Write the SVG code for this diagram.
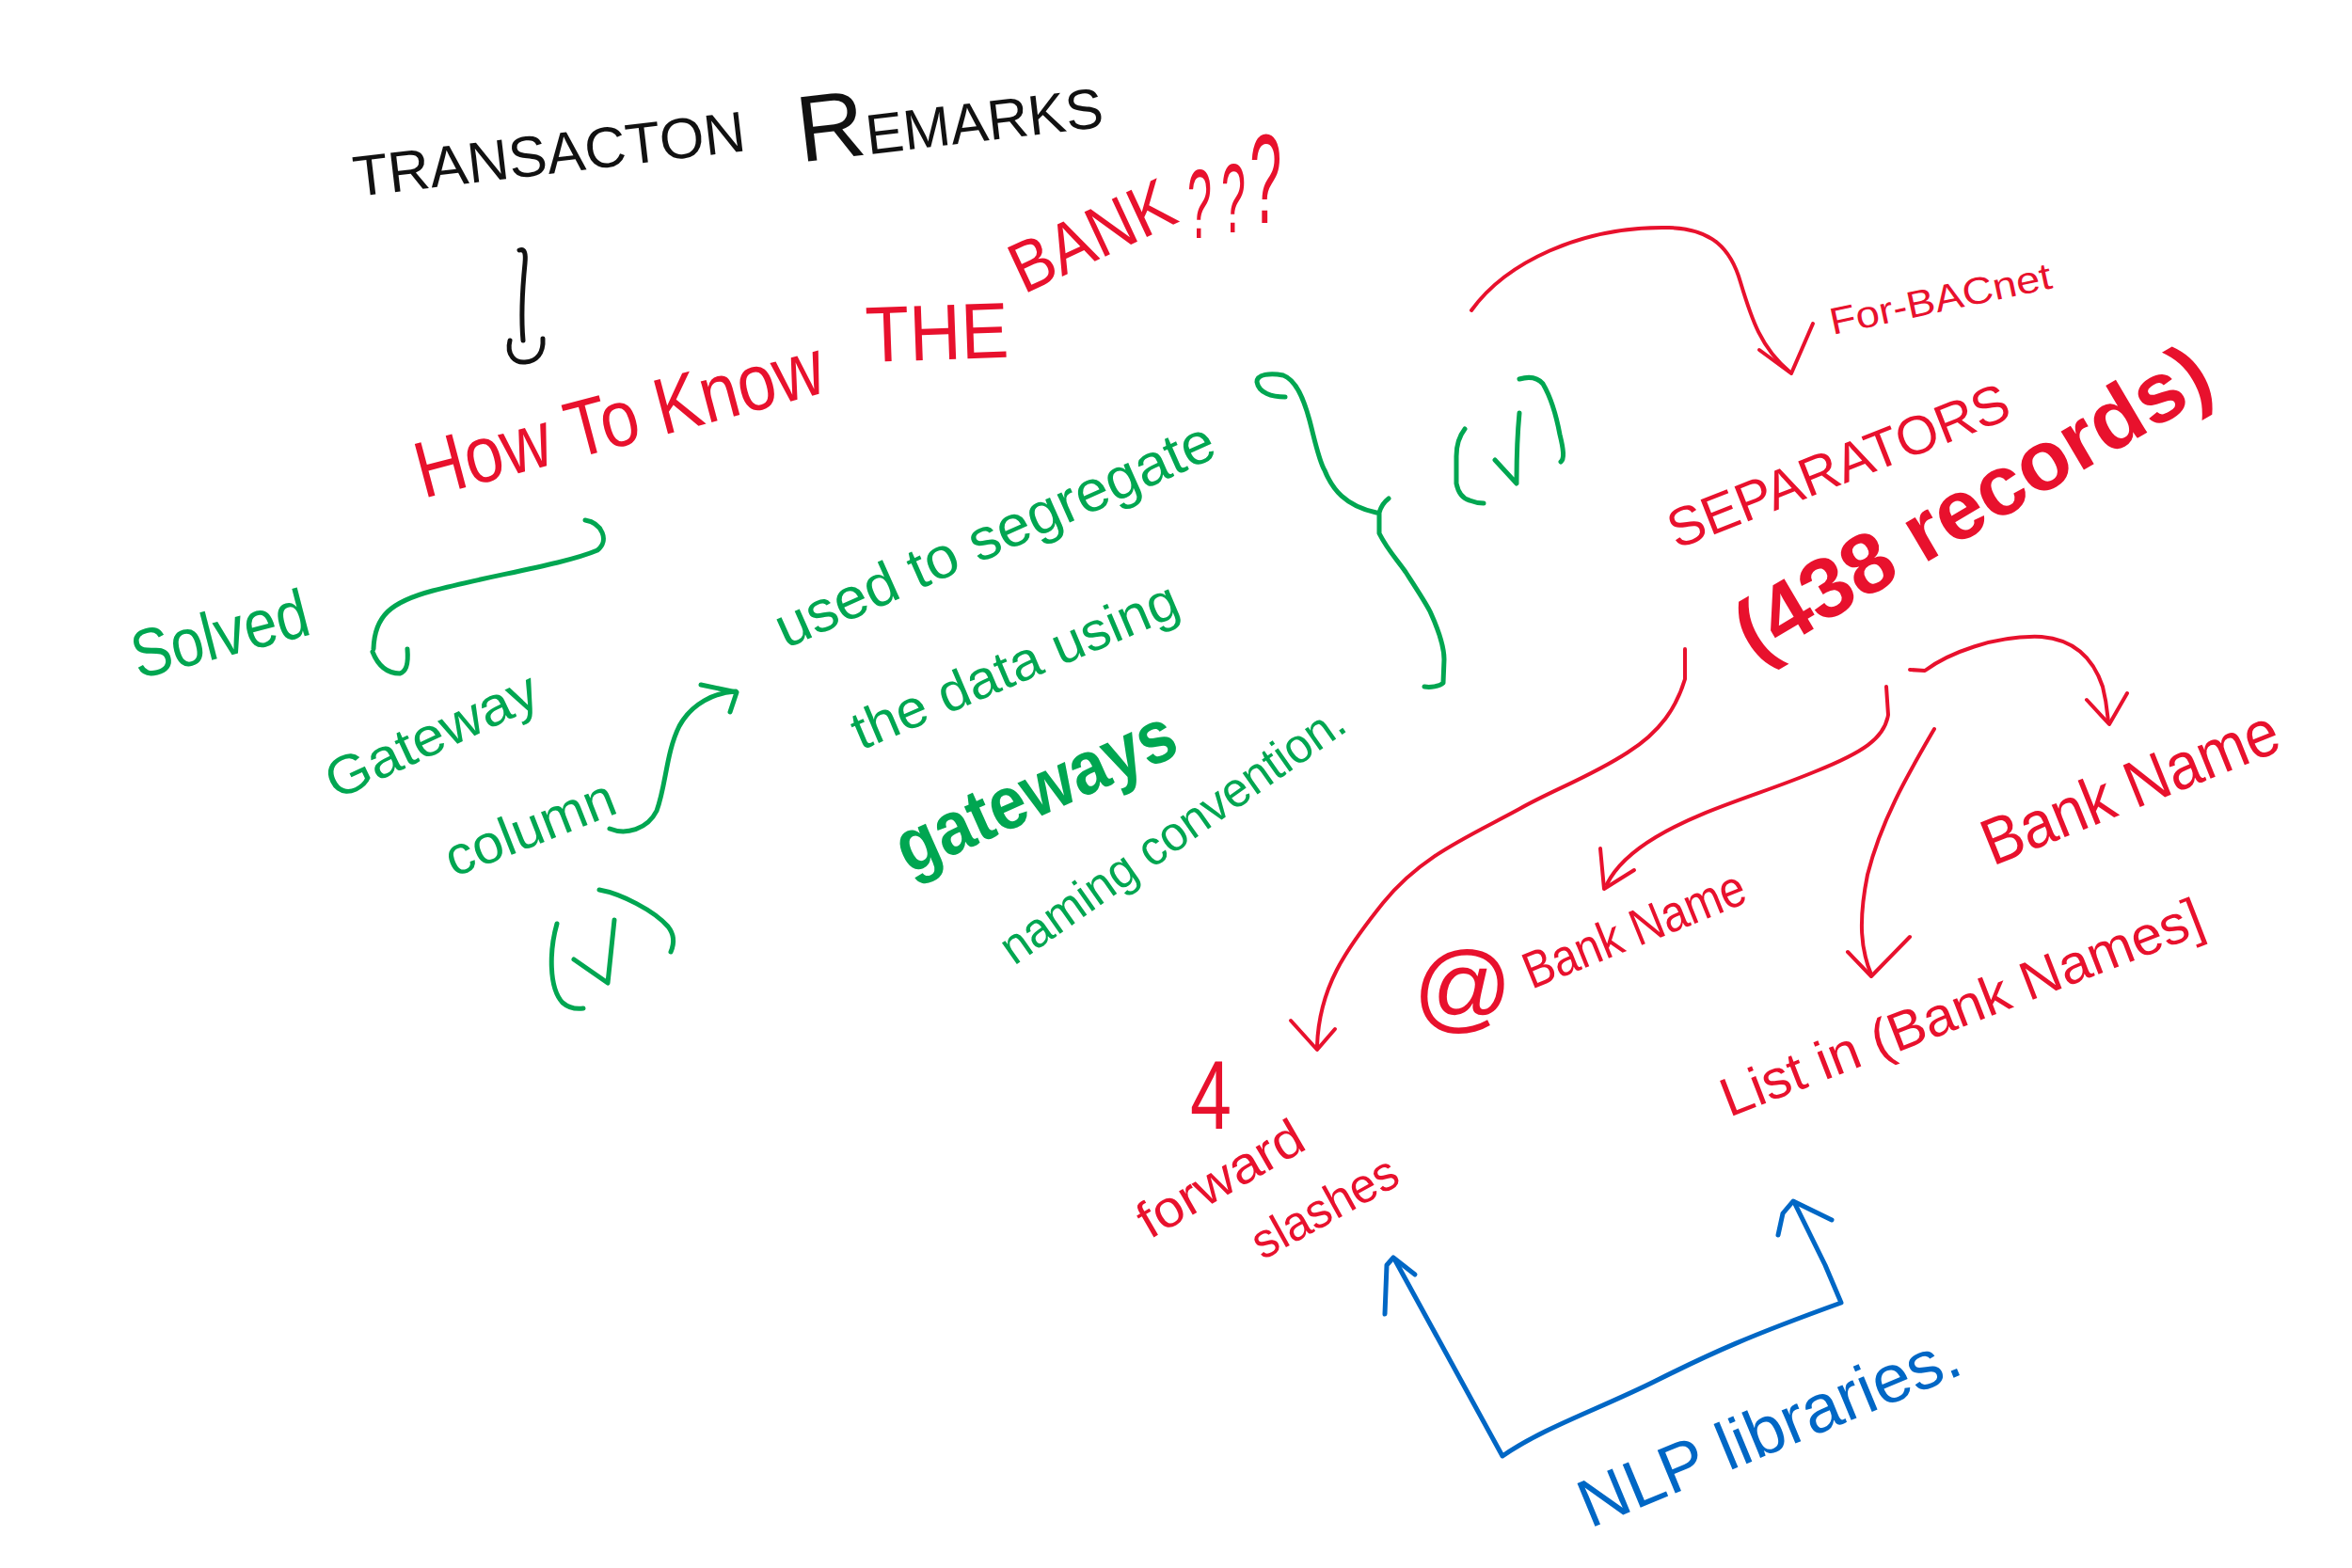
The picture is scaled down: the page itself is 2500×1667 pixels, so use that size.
<svg xmlns="http://www.w3.org/2000/svg" width="2500" height="1667" viewBox="0 0 2500 1667">
<style>
text{font-family:"Liberation Sans",Arial,sans-serif;}
.k{fill:#111111}
.r{fill:#e8112d}
.g{fill:#00a651}
.b{fill:#0067c5}
.ln{fill:none;stroke-linecap:round;stroke-linejoin:round}
.lr{stroke:#e8112d;stroke-width:4}
.lg{stroke:#00a651;stroke-width:5}
.lb{stroke:#0067c5;stroke-width:5}
.lk{stroke:#111111;stroke-width:5}
</style>
<rect width="2500" height="1667" fill="#ffffff"/>

<g id="title">
<text class="k" font-size="61" transform="translate(378,209) rotate(-6.7)">TRANSACTON<tspan dx="55" dy="19" font-size="100">R</tspan><tspan font-size="60">EMARKS</tspan></text>
</g>

<g id="how-to-know">
<text class="r" font-size="85" textLength="446" lengthAdjust="spacingAndGlyphs" transform="translate(450,530) rotate(-14.8)">How To Know</text>
<text class="r" font-size="84" textLength="152" lengthAdjust="spacingAndGlyphs" transform="translate(921,385) rotate(-2)">THE</text>
<text class="r" font-size="76" textLength="184" lengthAdjust="spacingAndGlyphs" transform="translate(1088,313) rotate(-25)">BANK</text>
<text class="r" transform="translate(1262,0) scale(0.45,1)"><tspan x="0" y="253" font-size="104">?</tspan><tspan x="80" y="247" font-size="104">?</tspan><tspan x="147" y="237" font-size="136">?</tspan></text>
</g>

<g id="solved">
<text class="g" font-size="72" textLength="192" lengthAdjust="spacingAndGlyphs" transform="translate(147,722) rotate(-14.5)">Solved</text>
</g>

<g id="gateway">
<text class="g" font-size="58" textLength="243" lengthAdjust="spacingAndGlyphs" transform="translate(357,851) rotate(-25)">Gateway</text>
</g>

<g id="column">
<text class="g" font-size="58" textLength="190" lengthAdjust="spacingAndGlyphs" transform="translate(482,933) rotate(-21.5)">column</text>
</g>

<g id="check-lower">
<path class="ln lg" d="M592,982 C584,1010 583,1050 598,1066 C605,1072 613,1073 620,1072"/>
<path class="ln lg" d="M610,1020 L646,1045 L653,978"/>
<path class="ln lg" d="M637,946 C660,950 695,968 710,985 C718,995 716,1005 713,1012"/>
</g>

<g id="description">
<text class="g" font-size="62" textLength="505" lengthAdjust="spacingAndGlyphs" transform="translate(835,690) rotate(-24)">used to segregate</text>
<text class="g" font-size="57" textLength="372" lengthAdjust="spacingAndGlyphs" transform="translate(915,798) rotate(-23)">the data using</text>
<text class="g" font-size="80" font-weight="bold" textLength="318" lengthAdjust="spacingAndGlyphs" transform="translate(966,930) rotate(-24)">gateways</text>
<text class="g" font-size="52" textLength="436" lengthAdjust="spacingAndGlyphs" transform="translate(1078,1027) rotate(-35.2)">naming convention.</text>
</g>

<g id="brace">
<path class="ln lg" d="M1366,422 C1352,422 1338,418 1336,406 C1336,398 1350,396 1364,399 C1378,404 1386,425 1392,447 C1398,470 1402,490 1408,500 C1416,520 1430,538 1463,545 M1466,545 C1468,538 1472,533 1476,530 M1466,545 L1466,567 C1475,585 1485,595 1494,608 C1505,625 1515,640 1520,650 C1530,672 1535,690 1535,701 L1534,726 C1530,730 1520,731 1514,730"/>
</g>

<g id="check-upper">
<path class="ln lg" d="M1557,456 C1550,465 1548,475 1548,485 L1548,514 C1550,524 1555,530 1562,532 C1567,534 1572,535 1577,535"/>
<path class="ln lg" d="M1589,489 L1612,514 C1612,490 1613,460 1615,439"/>
<path class="ln lg" d="M1615,403 C1625,400 1634,401 1640,408 C1650,425 1655,446 1658,462 C1662,478 1663,488 1659,491"/>
</g>

<g id="for-bacnet">
<text class="r" font-size="40" textLength="240" lengthAdjust="spacingAndGlyphs" transform="translate(1948,356) rotate(-12)">For-BACnet</text>
</g>

<g id="separators">
<text class="r" font-size="58" textLength="385" lengthAdjust="spacingAndGlyphs" transform="translate(1782,584) rotate(-21.4)">SEPARATORS</text>
<text class="r" font-size="90" font-weight="bold" textLength="570" lengthAdjust="spacingAndGlyphs" transform="translate(1866,705) rotate(-30.5)">(438 records)</text>
</g>

<g id="bank-name">
<text class="r" font-size="70" textLength="334" lengthAdjust="spacingAndGlyphs" transform="translate(2118,921) rotate(-21.9)">Bank Name</text>
</g>

<g id="at-bank-name">
<text class="r" x="1502" y="1084" font-size="104">@</text>
<text class="r" font-size="55" textLength="250" lengthAdjust="spacingAndGlyphs" transform="translate(1628,1052) rotate(-22)">Bank Name</text>
</g>

<g id="list-in">
<text class="r" font-size="58" textLength="545" lengthAdjust="spacingAndGlyphs" transform="translate(1838,1188) rotate(-21.2)">List in (Bank Names]</text>
</g>

<g id="forward-slashes">
<text class="r" x="1265" y="1200" font-size="104" textLength="44" lengthAdjust="spacingAndGlyphs">4</text>
<text class="r" font-size="55" textLength="195" lengthAdjust="spacingAndGlyphs" transform="translate(1222,1318) rotate(-30)">forward</text>
<text class="r" font-size="52" textLength="170" lengthAdjust="spacingAndGlyphs" transform="translate(1342,1340) rotate(-29)">slashes</text>
</g>

<g id="nlp">
<text class="b" font-size="72" textLength="432" lengthAdjust="spacingAndGlyphs" transform="translate(1690,1625) rotate(-22.5)">NLP libraries.</text>
</g>

<g id="connectors">
<path class="ln lk" d="M552,266 C558,264 559,270 558,280 C555,310 554,340 556,362"/>
<path class="ln lk" d="M542,362 C538,378 548,386 558,385 C570,384 578,376 577,360"/>
<path class="ln lg" stroke-width="6" d="M622,553 C640,556 648,575 635,585 C600,600 520,612 460,628 C415,640 398,655 397,690"/>
<path class="ln lg" stroke-width="6" d="M396,693 C402,708 412,716 425,716 C433,714 434,702 433,690"/>
<path class="ln lg" d="M648,881 C665,888 688,882 698,862 C708,835 708,800 722,772 C735,748 760,736 782,735"/>
<path class="ln lg" d="M745,728 L783,736 L776,757"/>
<path class="ln lr" d="M1564,330 C1600,280 1680,240 1774,242 C1820,243 1840,265 1850,300 C1862,340 1872,370 1902,395"/>
<path class="ln lr" d="M1870,372 L1904,397 L1927,344"/>
<path class="ln lr" d="M1791,690 L1791,722 C1782,752 1765,778 1730,800 C1690,826 1650,840 1615,860 C1560,890 1510,910 1470,960 C1430,1010 1402,1050 1400,1112"/>
<path class="ln lr" d="M1372,1085 L1400,1116 L1419,1094"/>
<path class="ln lr" d="M2005,730 L2007,760 C2003,785 1980,800 1930,820 C1870,845 1810,860 1760,890 C1735,905 1718,920 1708,940"/>
<path class="ln lr" d="M1701,902 L1705,945 L1737,925"/>
<path class="ln lr" stroke-width="5" d="M2056,775 C2030,820 2000,870 1985,930 C1975,980 1978,1010 1989,1036"/>
<path class="ln lr" stroke-width="5" d="M1964,1012 L1989,1038 L2030,996"/>
<path class="ln lr" d="M2030,712 L2046,713 C2070,695 2120,675 2170,677 C2205,680 2225,700 2235,730 C2240,750 2240,760 2241,768"/>
<path class="ln lr" d="M2218,744 L2242,770 L2261,737"/>
<path class="ln lb" d="M1483,1340 L1597,1548 C1640,1518 1700,1498 1760,1468 S1860,1420 1957,1385 L1940,1345 L1907,1278"/>
<path class="ln lb" d="M1472,1397 L1474,1345 L1481,1337 L1504,1355"/>
<path class="ln lb" d="M1890,1313 L1895,1290 L1906,1277 L1947,1297"/>
</g>
</svg>
